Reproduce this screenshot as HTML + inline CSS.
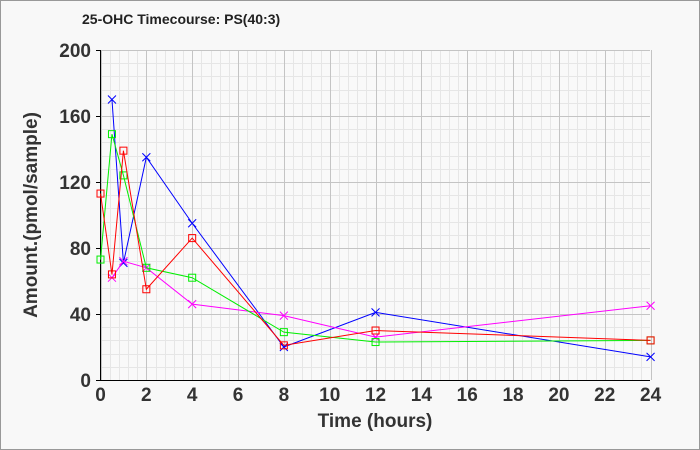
<!DOCTYPE html>
<html><head><style>body{margin:0;background:#fff}svg{display:block}</style></head><body>
<svg width="700" height="450" xmlns="http://www.w3.org/2000/svg" font-family="Liberation Sans, sans-serif">
<rect x="0.5" y="0.5" width="699" height="449" fill="#f8f8f8" stroke="#999"/>
<text x="82" y="24" font-size="14" font-weight="bold" fill="#222">25-OHC Timecourse: PS(40:3)</text>
<rect x="100" y="50" width="550" height="330" fill="#f9f9f9"/>
<g id="minor" stroke="#e6e6e6" stroke-width="1"></g>
<g id="major" stroke="#c4c4c4" stroke-width="1"></g>
<line x1="100.5" y1="50" x2="100.5" y2="380" stroke="#000"/>
<line x1="100" y1="380.5" x2="650" y2="380.5" stroke="#000"/>
<g id="ticks" font-size="19" font-weight="bold" fill="#333"></g>
<text x="375" y="427" font-size="19" font-weight="bold" fill="#333" text-anchor="middle">Time (hours)</text>
<text transform="translate(37,215) rotate(-90)" font-size="19" font-weight="bold" fill="#333" text-anchor="middle">Amount.(pmol/sample)</text>
<g id="series" fill="none"></g>
<script>
var X=function(t){return 100.5+t*22.92},Y=function(v){return 380-v*1.65};
var ns="http://www.w3.org/2000/svg";
function el(p,n,a){var e=document.createElementNS(ns,n);for(var k in a)e.setAttribute(k,a[k]);document.getElementById(p).appendChild(e);return e;}
for(var i=0;i<=60;i++){var x=Math.round(X(i*0.4))+0.5;el(i%5?'minor':'major','line',{x1:x,y1:50,x2:x,y2:380});}
for(var i=0;i<=25;i++){var y=Math.round(Y(i*8))+0.5;el(i%5?'minor':'major','line',{x1:100,y1:y,x2:650,y2:y});}
for(var i=0;i<=5;i++){var y=Math.round(Y(i*40))+0.5;el('major','line',{x1:96,y1:y,x2:100,y2:y,stroke:'#000'});}
for(var t=0;t<=24;t+=2){var e=el('ticks','text',{x:X(t),y:401,'text-anchor':'middle'});e.textContent=t;}
for(var v=0;v<=200;v+=40){var e=el('ticks','text',{x:91,y:Y(v)+7,'text-anchor':'end'});e.textContent=v;}
var S=[
['#0000ff','x',[[0.5,170],[1,71],[2,135],[4,95],[8,20],[12,41],[24,14]]],
['#ff00ff','x',[[0.5,62],[1,72],[2,68],[4,46],[8,39],[12,26],[24,45]]],
['#00ee00','s',[[0,73],[0.5,149],[1,124],[2,68],[4,62],[8,29],[12,23],[24,24]]],
['#ff0000','s',[[0,113],[0.5,64],[1,139],[2,55],[4,86],[8,21],[12,30],[24,24]]]
];
S.forEach(function(s){
 el('series','polyline',{points:s[2].map(function(p){return X(p[0])+','+Y(p[1])}).join(' '),stroke:s[0],'stroke-width':1});
 s[2].forEach(function(p){var x=X(p[0]),y=Y(p[1]);
  if(s[1]=='s')el('series','rect',{x:x-3.5,y:y-3.5,width:7,height:7,stroke:s[0]});
  else el('series','path',{d:'M'+(x-4)+' '+(y-4)+'L'+(x+4)+' '+(y+4)+'M'+(x-4)+' '+(y+4)+'L'+(x+4)+' '+(y-4),stroke:s[0]});
 });
});
</script>
</svg>
</body></html>
